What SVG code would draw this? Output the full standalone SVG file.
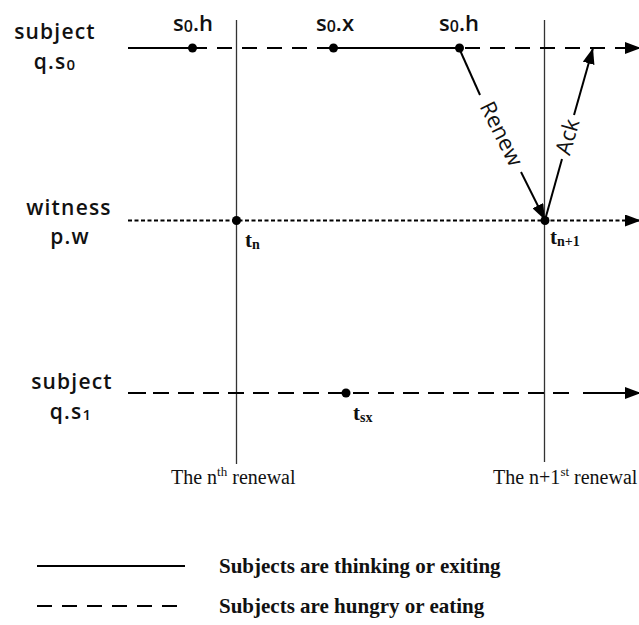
<svg xmlns="http://www.w3.org/2000/svg" width="639" height="625" viewBox="0 0 639 625">
<style>
.sans{font-family:"Open Sans","DejaVu Sans",sans-serif;font-weight:600;fill:#111}
.lbl{font-size:21px;letter-spacing:1.2px;text-anchor:middle}
.ev{font-size:22px;text-anchor:middle}
.msg{font-family:"Open Sans","DejaVu Sans",sans-serif;font-size:22px;fill:#111;text-anchor:middle}
.ser{font-family:"Liberation Serif","Times New Roman",serif;fill:#111}
.tb{font-weight:bold;font-size:21px}
.ren{font-size:20px}
.leg{font-weight:bold;font-size:21px}
.ln{stroke:#000;stroke-width:2;fill:none}
.dash{stroke-dasharray:15 10}
.dot{stroke-dasharray:4 2.5}
.vl{stroke:#333;stroke-width:1.3;fill:none}
.pt{fill:#000}
</style>
<defs>
<marker id="ah" viewBox="0 0 16 12" refX="16" refY="6" markerWidth="16" markerHeight="12" markerUnits="userSpaceOnUse" orient="auto">
<path d="M0,0 L16,6 L0,12 Z" fill="#000"/>
</marker>
</defs>
<g id="labels">
<text class="sans lbl" x="55" y="39">subject</text>
<text class="sans lbl" x="55" y="69">q.s<tspan font-size="15" dy="1">0</tspan></text>
<text class="sans lbl" x="69" y="215">witness</text>
<text class="sans lbl" x="70" y="244">p.w</text>
<text class="sans lbl" x="72" y="389">subject</text>
<text class="sans lbl" x="71" y="419">q.s<tspan font-size="15" dy="1">1</tspan></text>
</g>
<g id="renewal-lines">
<line class="vl" x1="236.5" y1="20" x2="236.5" y2="464"/>
<line class="vl" x1="544.5" y1="20" x2="544.5" y2="462"/>
<text class="ser ren" x="171" y="484">The n<tspan font-size="13" dy="-8">th</tspan><tspan dy="8"> renewal</tspan></text>
<text class="ser ren" x="493" y="484">The n+1<tspan font-size="13" dy="-8">st</tspan><tspan dy="8"> renewal</tspan></text>
</g>
<g id="connectors">
<line class="ln" x1="128" y1="48" x2="192" y2="48"/>
<line class="ln dash" x1="192" y1="48" x2="333" y2="48"/>
<line class="ln" x1="333" y1="48" x2="459" y2="48"/>
<line class="ln dash" x1="465" y1="48" x2="628" y2="48"/>
<line class="ln" x1="626" y1="48" x2="641" y2="48" marker-end="url(#ah)"/>
<line class="ln dot" x1="128" y1="220.5" x2="630" y2="220.5"/>
<line class="ln" x1="628" y1="220.5" x2="641" y2="220.5" marker-end="url(#ah)"/>
<line class="ln" x1="128" y1="393" x2="146" y2="393"/>
<line class="ln" style="stroke-dasharray:16 9" x1="153" y1="393" x2="570" y2="393"/>
<line class="ln" x1="583" y1="393" x2="641" y2="393" marker-end="url(#ah)"/>
<line class="ln" x1="459" y1="48" x2="480" y2="95"/>
<line class="ln" x1="521" y1="172" x2="545" y2="220" marker-end="url(#ah)"/>
<line class="ln" x1="545" y1="220" x2="562" y2="159"/>
<line class="ln" x1="574" y1="115" x2="593" y2="48" marker-end="url(#ah)"/>
</g>
<g id="msg-labels">
<text class="msg" transform="translate(501,134) rotate(63.4)" y="7">Renew</text>
<text class="msg" transform="translate(568,137) rotate(-74)" y="7">Ack</text>
</g>
<g id="events">
<circle class="pt" cx="192.5" cy="48" r="4.5"/>
<circle class="pt" cx="333.5" cy="48" r="4.5"/>
<circle class="pt" cx="459.5" cy="48" r="4.5"/>
<circle class="pt" cx="236.5" cy="220.5" r="4.5"/>
<circle class="pt" cx="545" cy="220.5" r="4.5"/>
<circle class="pt" cx="346" cy="393" r="4.5"/>
<text class="sans ev" x="193" y="31">s<tspan font-size="16" dy="1">0</tspan><tspan dy="-1">.h</tspan></text>
<text class="sans ev" x="335" y="31">s<tspan font-size="16" dy="1">0</tspan><tspan dy="-1">.x</tspan></text>
<text class="sans ev" x="459" y="31">s<tspan font-size="16" dy="1">0</tspan><tspan dy="-1">.h</tspan></text>
<text class="ser tb" x="245" y="247">t<tspan font-size="14" dy="2">n</tspan></text>
<text class="ser tb" x="550" y="244">t<tspan font-size="14" dy="2">n+1</tspan></text>
<text class="ser tb" x="353" y="420">t<tspan font-size="14" dy="2">sx</tspan></text>
</g>
<g id="legend">
<line class="ln" x1="37" y1="566" x2="185" y2="566"/>
<line class="ln dash" x1="37" y1="606" x2="180" y2="606"/>
<text class="ser leg" x="219" y="573">Subjects are thinking or exiting</text>
<text class="ser leg" x="219" y="613">Subjects are hungry or eating</text>
</g>
</svg>
